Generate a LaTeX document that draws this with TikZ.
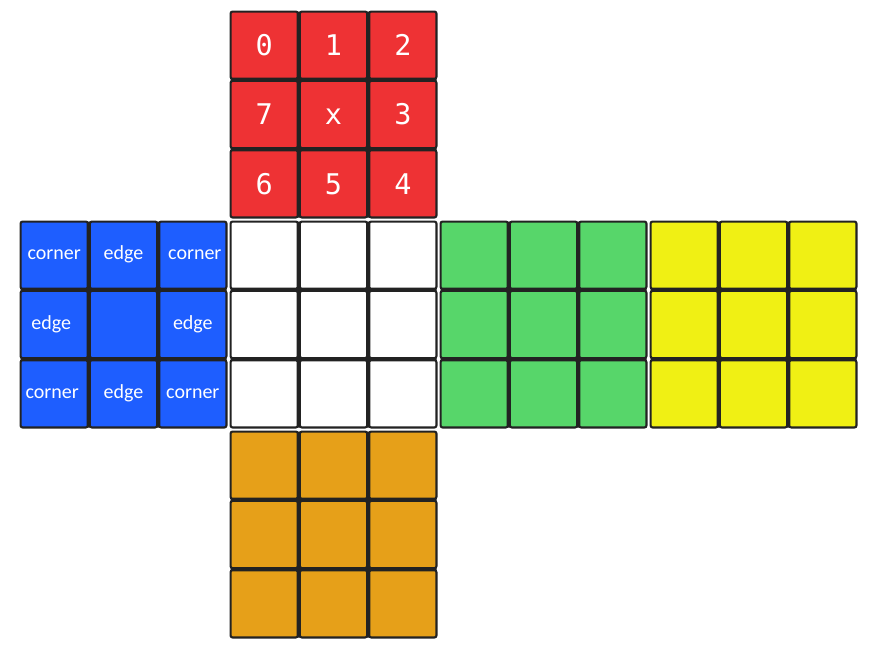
\documentclass[tikz,border=0pt]{standalone}
\usepackage{fontspec}
\newfontfamily\labfont{Carlito}
\newfontfamily\digfont{DejaVu Sans Mono}
\definecolor{cred}{RGB}{238,50,52}
\definecolor{cblue}{RGB}{30,94,255}
\definecolor{cgreen}{RGB}{87,214,106}
\definecolor{cyellow}{RGB}{240,240,20}
\definecolor{corange}{RGB}{230,160,25}
\definecolor{cborder}{RGB}{34,34,34}
\tikzset{
 facebg/.style={fill=cborder, rounded corners=2pt},
 cell/.style={draw=cborder, line width=2.1pt, rounded corners=2pt, minimum size=67.23pt, inner sep=0pt, outer sep=0pt},
 lab/.style={font=\labfont\fontsize{20}{22}\selectfont, text=white, anchor=base, inner sep=0pt},
 dig/.style={font=\digfont\fontsize{28.5}{30}\selectfont, text=white, anchor=base, inner sep=0pt},
}
\begin{document}
\begin{tikzpicture}[x=1pt,y=-1pt]
\useasboundingbox (0,0) rectangle (882,654);
\foreach \f/\fx/\fy/\c in {R/229.5/10.5/cred, B/19.5/220.5/cblue, W/229.5/220.5/white, G/439.5/220.5/cgreen, Y/649.5/220.5/cyellow, O/229.5/430.5/corange}{
  \fill[facebg] (\fx+1,\fy+1) rectangle (\fx+207,\fy+207);
  \foreach \i in {0,1,2}{\foreach \j in {0,1,2}{
    \node[cell, fill=\c] (\f-\j-\i) at ({\fx+69.333*\i+34.667},{\fy+69.333*\j+34.667}) {};
  }}
}
% red face digits
\foreach \j/\i/\t in {0/0/0, 0/1/1, 0/2/2, 1/0/7, 1/1/x, 1/2/3, 2/0/6, 2/1/5, 2/2/4}{
  \node[dig] (d-\j-\i) at ([yshift=-10.2pt]R-\j-\i.center) {\t};
}
% blue face labels
\node[lab] (b00) at ([yshift=-4.7pt]B-0-0.center) {corner};
\node[lab] (b01) at ([yshift=-4.7pt]B-0-1.center) {edge};
\node[lab] (b02) at ([xshift=2pt,yshift=-4.7pt]B-0-2.center) {corner};
\node[lab] (b10) at ([xshift=-3pt,yshift=-4.7pt]B-1-0.center) {edge};
\node[lab] (b12) at ([yshift=-4.7pt]B-1-2.center) {edge};
\node[lab] (b20) at ([xshift=-2pt,yshift=-4.7pt]B-2-0.center) {corner};
\node[lab] (b21) at ([yshift=-4.7pt]B-2-1.center) {edge};
\node[lab] (b22) at ([yshift=-4.7pt]B-2-2.center) {corner};
\end{tikzpicture}
\end{document}
